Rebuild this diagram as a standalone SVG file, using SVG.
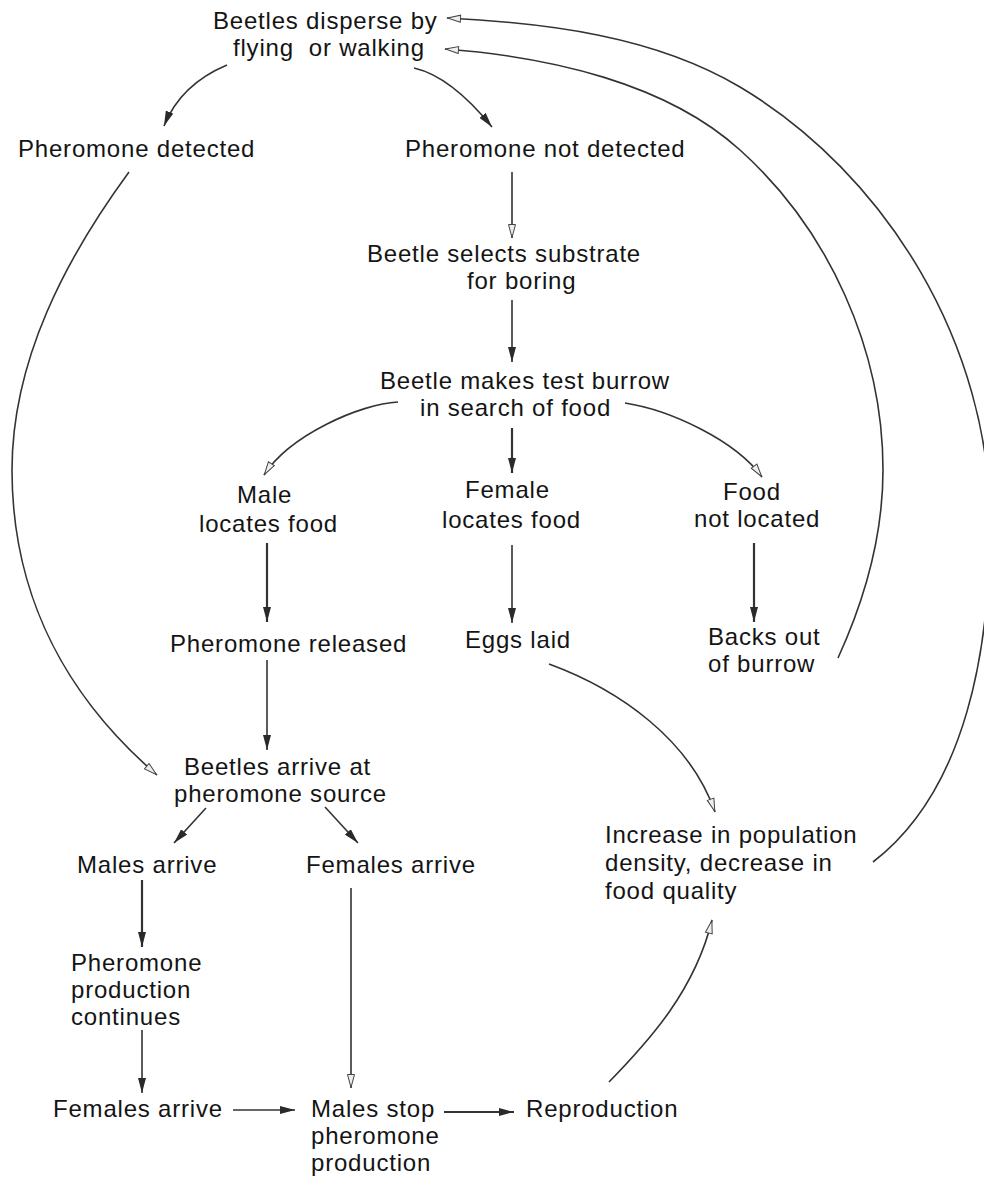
<svg xmlns="http://www.w3.org/2000/svg" width="984" height="1179" viewBox="0 0 984 1179">
<defs>
<style>
text{font-family:"Liberation Sans",Arial,sans-serif;font-size:24px;fill:#141414;letter-spacing:0.8px;white-space:pre}
.l{fill:none;stroke:#333;stroke-width:1.6}
.t{stroke-width:2.2}
.f{marker-end:url(#af)}
.o{marker-end:url(#ao)}
</style>
<marker id="af" viewBox="0 0 15 8" refX="15" refY="4" markerWidth="15" markerHeight="8" orient="auto" markerUnits="userSpaceOnUse"><path d="M0,0 L15,4 L0,8 Z" fill="#2a2a2a"/></marker>
<marker id="ao" viewBox="0 0 15 9" refX="14.5" refY="4.5" markerWidth="15" markerHeight="9" orient="auto" markerUnits="userSpaceOnUse"><path d="M1,1 L14,4.5 L1,8 Z" fill="#eee" stroke="#444" stroke-width="1"/></marker>
</defs>
<rect width="984" height="1179" fill="#fff"/>
<g id="connectors">
<path class="l f" d="M227,65 Q180.5,84.5 164,126"/>
<path class="l f" d="M414,68 Q451,76.5 492,127"/>
<path class="l o" d="M512,172 L512,238"/>
<path class="l f" d="M512,300 L512,362"/>
<path class="l o" d="M398,402 C360,404 290,435 264,475"/>
<path class="l f t" d="M512,428 L512,473"/>
<path class="l o" d="M625,403 C670,410 735,440 762,477"/>
<path class="l f t" d="M267,543 L267,622"/>
<path class="l f" d="M512,545 L512,623"/>
<path class="l f t" d="M754,543 L754,622"/>
<path class="l f" d="M267,660 L267,750"/>
<path class="l o" d="M129,172 C66,258 12,360 12,470 C12,600 70,700 157,775"/>
<path class="l f" d="M206,808 L174,843"/>
<path class="l f" d="M325,807 L358,843"/>
<path class="l f t" d="M142,880 L142,947"/>
<path class="l f" d="M142,1030 L142,1093"/>
<path class="l o" d="M351,888 L351,1088"/>
<path class="l f" d="M233,1110 L295,1110"/>
<path class="l f t" d="M444,1112 L514,1112"/>
<path class="l o" d="M609,1082 C650,1040 695,990 712,920"/>
<path class="l o" d="M549,664 C620,690 690,740 715,812"/>
<path class="l o" d="M838,658 C865,599 883,535 883,470 C883,350 829,230 740,150 C666,83 550,57 445,49"/>
<path class="l o" d="M873,862 C968,789 990,645 990,525 C991,345 886,174 740,87 C654,36 547,23 447,18"/>
</g>
<g id="n-disperse"><text x="213" y="29">Beetles disperse by</text><text x="233" y="56">flying  or walking</text></g>
<g id="n-detected"><text x="18" y="157">Pheromone detected</text></g>
<g id="n-notdetected"><text x="405" y="157">Pheromone not detected</text></g>
<g id="n-selects"><text x="367" y="262">Beetle selects substrate</text><text x="467" y="289">for boring</text></g>
<g id="n-testburrow"><text x="380" y="389">Beetle makes test burrow</text><text x="420" y="416">in search of food</text></g>
<g id="n-male"><text x="237" y="503">Male</text><text x="199" y="532">locates food</text></g>
<g id="n-female"><text x="465" y="498">Female</text><text x="442" y="528">locates food</text></g>
<g id="n-nofood"><text x="723" y="500">Food</text><text x="694" y="527">not located</text></g>
<g id="n-released"><text x="170" y="652">Pheromone released</text></g>
<g id="n-eggs"><text x="465" y="648">Eggs laid</text></g>
<g id="n-backs"><text x="708" y="645">Backs out</text><text x="708" y="672">of burrow</text></g>
<g id="n-arrive"><text x="184" y="775">Beetles arrive at</text><text x="174" y="802">pheromone source</text></g>
<g id="n-males"><text x="77" y="873">Males arrive</text></g>
<g id="n-females1"><text x="306" y="873">Females arrive</text></g>
<g id="n-continues"><text x="71" y="971">Pheromone</text><text x="71" y="998">production</text><text x="71" y="1025">continues</text></g>
<g id="n-females2"><text x="53" y="1117">Females arrive</text></g>
<g id="n-stop"><text x="311" y="1117">Males stop</text><text x="311" y="1144">pheromone</text><text x="311" y="1171">production</text></g>
<g id="n-repro"><text x="526" y="1117">Reproduction</text></g>
<g id="n-density"><text x="605" y="843">Increase in population</text><text x="605" y="871">density, decrease in</text><text x="605" y="899">food quality</text></g>
</svg>
